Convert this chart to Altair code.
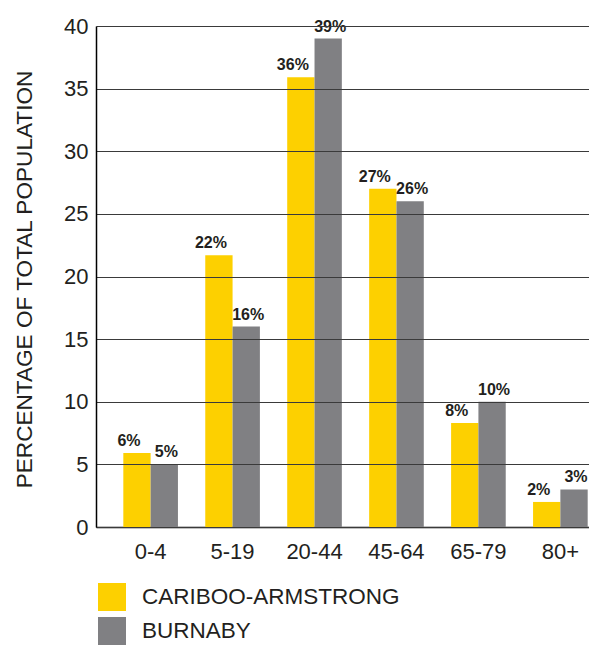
import altair as alt
import pandas as pd

age_groups = ["0-4", "5-19", "20-44", "45-64", "65-79", "80+"]
series_names = ["CARIBOO-ARMSTRONG", "BURNABY"]
cariboo = [5.9, 21.7, 35.9, 27.0, 8.3, 2.0]
burnaby = [5.0, 16.0, 39.0, 26.0, 10.0, 3.0]
cariboo_labels = ["6%", "22%", "36%", "27%", "8%", "2%"]
burnaby_labels = ["5%", "16%", "39%", "26%", "10%", "3%"]
colors = ["#FDD000", "#808083"]
y_ticks = [0, 5, 10, 15, 20, 25, 30, 35, 40]

rows = []
for i, a in enumerate(age_groups):
    rows.append(dict(age=a, series=series_names[0], value=cariboo[i], label=cariboo_labels[i]))
    rows.append(dict(age=a, series=series_names[1], value=burnaby[i], label=burnaby_labels[i]))
df = pd.DataFrame(rows)

TXT = "#231F20"
FONT = "Liberation Sans"

x_enc = alt.X(
    "age:N", sort=age_groups,
    scale=alt.Scale(range=[0, 519], paddingInner=1 / 3, paddingOuter=1 / 3),
    axis=alt.Axis(title=None, labelAngle=0, ticks=False, labelPadding=14,
                  labelFontSize=22, labelColor=TXT, labelFont=FONT,
                  domainColor="#000000", domainWidth=1.5, grid=False),
)
xo_enc = alt.XOffset("series:N", sort=series_names,
                     scale=alt.Scale(paddingInner=0, paddingOuter=0))
y_enc = alt.Y(
    "value:Q",
    scale=alt.Scale(domain=[0, 40], nice=False),
    axis=alt.Axis(values=y_ticks, title="PERCENTAGE OF TOTAL POPULATION",
                  titleFontSize=22.6, titleFontWeight="normal", titleColor=TXT,
                  titleFont=FONT, titleAngle=270, titleX=-72, titleY=253,
                  titleAlign="center", titleBaseline="middle",
                  labelFontSize=22, labelColor=TXT, labelFont=FONT,
                  labelPadding=8, ticks=False, grid=True, gridColor="#3A3A3A",
                  gridWidth=1, domainColor="#000000", domainWidth=1.5, zindex=1),
)

base = alt.Chart(df)

bars = base.mark_bar(clip=True).encode(
    x=x_enc,
    xOffset=xo_enc,
    y=y_enc,
    color=alt.Color("series:N", sort=series_names,
                    scale=alt.Scale(domain=series_names, range=colors),
                    legend=alt.Legend(title=None)),
)

txt_y = base.transform_filter(alt.datum.series == series_names[0]).mark_text(
    fontSize=16, fontWeight="bold", color=TXT, font=FONT,
    baseline="alphabetic", dy=-7, dx=-8,
).encode(x=x_enc, xOffset=xo_enc, y=alt.Y("value:Q"), text="label:N")

txt_g = base.transform_filter(alt.datum.series == series_names[1]).mark_text(
    fontSize=16, fontWeight="bold", color=TXT, font=FONT,
    baseline="alphabetic", dy=-7, dx=2,
).encode(x=x_enc, xOffset=xo_enc, y=alt.Y("value:Q"), text="label:N")

chart = alt.layer(bars, txt_y, txt_g).properties(
    width=493, height=501,
    autosize=alt.AutoSizeParams(type="none"),
    padding={"left": 88, "top": 18, "right": 0, "bottom": 118},
).configure_view(stroke=None).configure_legend(
    orient="none", legendX=2, legendY=557, direction="vertical",
    symbolType="square", symbolSize=784, symbolStrokeWidth=0, symbolOpacity=1,
    labelFontSize=22.5, labelFont=FONT, labelColor=TXT, labelOffset=16,
    rowPadding=6, padding=0, labelLimit=400,
)

chart.save("out.html", embed_options={"renderer": "svg", "actions": False})
